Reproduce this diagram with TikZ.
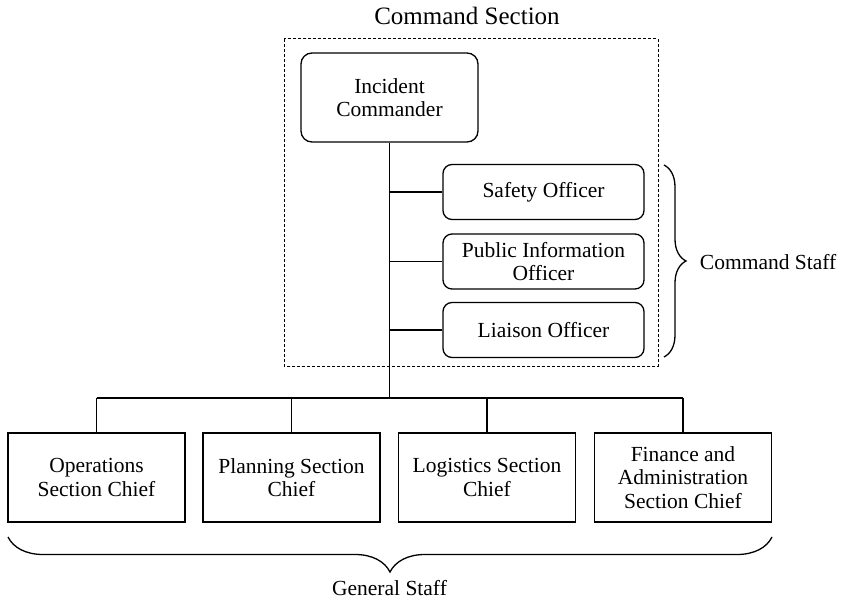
\documentclass[tikz,border=0pt]{standalone}
\usepackage{fontspec}
\setmainfont{Liberation Serif}
\usetikzlibrary{decorations.pathreplacing}
\begin{document}
\begin{tikzpicture}[x=1pt,y=-1pt,line width=1.3pt,
  font=\fontsize{21.5}{23.5}\selectfont,
  icbox/.style={draw,rounded corners=11pt,align=center,minimum width=177pt,minimum height=89pt,inner sep=0pt},
  staffbox/.style={draw,rounded corners=9pt,align=center,minimum width=201pt,minimum height=55pt,inner sep=0pt},
  chiefbox/.style={draw,align=center,minimum width=177pt,minimum height=89pt,inner sep=0pt},
  brc/.style={decorate,decoration={brace,amplitude=#1}}]
\useasboundingbox (0,0) rectangle (843,604);
\pgfmathsetmacro{\busy}{398}
% command section
\draw[dash pattern=on 3pt off 2pt,line width=1pt] (284,39) rectangle (658,366);
\node[font=\fontsize{25}{27}\selectfont] (title) at (467,16) {Command Section};
\node[icbox] (ic) at (389.5,97.5) {Incident\\Commander};
\node[staffbox] (safety) at (543.5,192) {Safety Officer};
\node[staffbox] (pio) at (543.5,261.5) {Public Information\\Officer};
\node[staffbox] (liaison) at (543.5,330) {Liaison Officer};
% general staff
\node[chiefbox] (ops) at (96.5,477.5) {Operations\\Section Chief};
\node[chiefbox] (plan) at (291.5,477.5) {Planning Section\\Chief};
\node[chiefbox] (log) at (487,477.5) {Logistics Section\\Chief};
\node[chiefbox] (fin) at (683,477.5) {Finance and\\Administration\\Section Chief};
\coordinate (bus) at (389.5,\busy);
% lines
\draw (ic.south) -- (bus);
\foreach \s in {safety,pio,liaison}
  \draw (\s.west -| ic.south) -- (\s.west);
\draw (ops.north |- bus) -- (fin.north |- bus);
\foreach \c in {ops,plan,log,fin}
  \draw (\c.north |- bus) -- (\c.north);
% braces
\coordinate (cs1) at (664,165);
\coordinate (cs2) at (664,357);
\draw[brc=22pt] (cs1) -- (cs2);
\node[anchor=west] (cstaff) at (696,262) {Command Staff};
\coordinate (gs1) at (772,537);
\coordinate (gs2) at (8,537);
\draw[brc=35pt] (gs1) -- (gs2);
\node (gstaff) at (389.5,588) {General Staff};
\end{tikzpicture}
\end{document}
